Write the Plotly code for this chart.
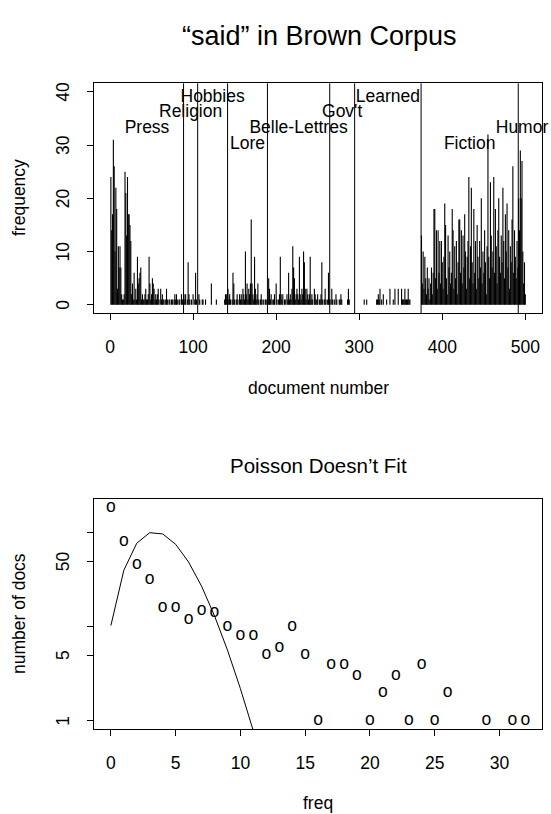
import math
import plotly.graph_objects as go

# ---------------- data: counts of "said" per Brown Corpus document ----------------
genres = ["Press", "Religion", "Hobbies", "Lore", "Belle-Lettres", "Gov't",
          "Learned", "Fiction", "Humor"]
genre_label_y = [33, 36, 39, 30, 33, 36, 39, 30, 33]

press = [24, 14, 17, 31, 26, 10, 22, 18, 3, 11, 7, 11, 7, 2, 1, 1, 2, 25, 21, 13,
         24, 17, 17, 15, 12, 2, 4, 1, 6, 1, 3, 1, 9, 4, 5, 6, 7, 1, 2, 1,
         1, 2, 3, 1, 1, 2, 9, 4, 1, 2, 5, 4, 3, 1, 2, 1, 2, 3, 1, 0,
         3, 1, 2, 1, 1, 0, 1, 3, 1, 0, 1, 1, 0, 1, 1, 0, 1, 2, 1, 2,
         1, 0, 1, 1, 0, 2, 1, 1]
religion = [2, 1, 2, 0, 1, 8, 2, 1, 0, 1, 0, 2, 0, 1, 6, 1, 0]
hobbies = [0, 2, 1, 0, 0, 1, 1, 0, 0, 1, 0, 0, 0, 0, 0, 0, 4, 0, 0, 0,
           0, 0, 1, 0, 0, 0, 0, 0, 0, 0, 0, 0, 1, 2, 2, 1]
lore = [3, 1, 2, 1, 0, 1, 6, 4, 1, 0, 1, 2, 1, 0, 2, 1, 2, 1, 3, 2,
        1, 10, 2, 4, 1, 3, 2, 4, 16, 4, 2, 1, 9, 3, 1, 2, 4, 1, 0, 1,
        2, 1, 0, 1, 0, 1, 1, 0]
belles = [1, 5, 3, 1, 2, 0, 1, 1, 2, 0, 4, 1, 0, 1, 2, 9, 2, 1, 2, 0,
          1, 1, 0, 2, 1, 6, 1, 2, 1, 3, 11, 7, 5, 1, 2, 3, 2, 1, 9, 2,
          1, 3, 2, 10, 8, 3, 1, 3, 2, 1, 2, 9, 1, 2, 1, 0, 3, 2, 1, 1,
          2, 0, 1, 1, 2, 8, 1, 0, 1, 3, 1, 0, 1, 6, 1]
govt = [1, 0, 3, 1, 0, 1, 0, 2, 1, 0, 0, 1, 1, 2, 1, 0, 0, 0, 0, 0,
        0, 1, 3, 1, 0, 0, 0, 0, 0, 0]
learned = [0, 0, 0, 0, 0, 0, 0, 0, 0, 0, 0, 1, 0, 0, 1, 0, 0, 0, 0, 0,
           0, 0, 0, 0, 0, 0, 1, 1, 2, 1, 3, 0, 1, 0, 2, 0, 0, 0, 1, 0,
           0, 0, 3, 0, 0, 0, 1, 0, 3, 0, 0, 0, 3, 0, 0, 0, 3, 1, 1, 1,
           3, 1, 1, 1, 3, 1, 1, 0, 0, 0, 0, 0, 0, 0, 0, 0, 0, 0, 0, 0]
fiction = [13, 4, 10, 3, 9, 5, 2, 7, 3, 5, 1, 4, 7, 2, 6, 18, 18, 5, 14, 3,
           14, 6, 12, 4, 12, 8, 3, 9, 19, 15, 5, 2, 13, 7, 10, 4, 6, 18, 14, 3,
           11, 5, 12, 2, 8, 16, 16, 6, 14, 4, 13, 7, 17, 10, 3, 9, 12, 24, 5, 11,
           22, 8, 4, 18, 6, 12, 3, 15, 9, 5, 12, 7, 20, 4, 10, 6, 14, 8, 2, 11,
           32, 9, 5, 23, 13, 7, 10, 24, 6, 18, 11, 4, 14, 20, 9, 6, 13, 8, 22, 12,
           5, 17, 10, 19, 7, 14, 3, 11, 8, 16, 26, 6, 14, 9, 5, 12, 7]
humor = [20, 14, 29, 20, 27, 10, 4, 8, 2]

genre_counts = [press, religion, hobbies, lore, belles, govt, learned, fiction, humor]

top_xticks = [0, 100, 200, 300, 400, 500]
top_yticks = [0, 10, 20, 30, 40]

# ---------------- data: distribution of counts vs Poisson ----------------
freq = [0, 1, 2, 3, 4, 5, 6, 7, 8, 9, 10, 11, 12, 13, 14, 15, 16, 17, 18, 19,
        20, 21, 22, 23, 24, 25, 26, 29, 31, 32]
num_docs = [186, 81, 46, 32, 16, 16, 12, 15, 14, 10, 8, 8, 5, 6, 10, 5, 1, 4, 4, 3,
            1, 2, 3, 1, 4, 1, 2, 1, 1, 1]
poisson_x = [0, 1, 2, 3, 4, 5, 6, 7, 8, 9, 10, 11]
poisson_y = [10.3, 40.0, 77.6, 100.4, 97.4, 75.6, 48.9, 27.1, 13.1, 5.66, 2.2, 0.78]

bot_xticks = [0, 5, 10, 15, 20, 25, 30]
bot_yticks = [1, 5, 10, 50, 100]
bot_yticktext = ["1", "5", "", "50", ""]

# ---------------- build ----------------
W, H = 551, 814
FONT = "Liberation Sans, Arial, Helvetica, sans-serif"
FS = 17.5

def fx(p):
    return p / W

def fy(p):
    return 1 - p / H

counts = [v for g in genre_counts for v in g]
docs = list(range(1, len(counts) + 1))

hx, hy = [], []
for d, v in zip(docs, counts):
    hx += [d, d, None]
    hy += [0, v, None]

bounds, mids = [], []
start = 1
for g in genre_counts:
    end = start + len(g) - 1
    mids.append((start + end) / 2)
    bounds.append(end + 0.5)
    start = end + 1
bounds = bounds[:-1]

fig = go.Figure()
fig.add_trace(go.Scatter(x=hx, y=hy, mode="lines",
                         line=dict(color="black", width=1.1),
                         xaxis="x", yaxis="y", hoverinfo="skip", showlegend=False))
fig.add_trace(go.Scatter(x=mids, y=genre_label_y, mode="text", text=genres,
                         textposition="middle center",
                         textfont=dict(family=FONT, size=FS, color="black"),
                         xaxis="x", yaxis="y", showlegend=False, cliponaxis=False))
fig.add_trace(go.Scatter(x=freq, y=num_docs, mode="text", text=["o"] * len(freq),
                         textposition="middle center",
                         textfont=dict(family=FONT, size=FS, color="black"),
                         xaxis="x2", yaxis="y2", showlegend=False, cliponaxis=False))
fig.add_trace(go.Scatter(x=poisson_x, y=poisson_y, mode="lines",
                         line=dict(color="black", width=1),
                         xaxis="x2", yaxis="y2", showlegend=False))

shapes = [dict(type="line", xref="x", yref="y domain", x0=b, x1=b, y0=0, y1=1,
               line=dict(color="black", width=1)) for b in bounds]

xdom = [fx(94.3), fx(541.9)]
axis_common = dict(showgrid=False, zeroline=False, showline=True, mirror=True,
                   linecolor="black", linewidth=1, ticks="outside", ticklen=6,
                   tickcolor="black", tickwidth=1,
                   tickfont=dict(family=FONT, size=FS, color="black"))

def ann(text, x, y, size=FS, angle=0, xref="paper", yref="paper"):
    return dict(text=text, x=x, y=y, xref=xref, yref=yref, showarrow=False,
                xanchor="center", yanchor="middle", textangle=angle,
                font=dict(family=FONT, size=size, color="black"))

annotations = [
    ann("\u201csaid\u201d in Brown Corpus", fx(319), fy(36), size=27),
    ann("Poisson Doesn\u2019t Fit", fx(318), fy(465), size=20.5),
    ann("document number", fx(318), fy(388)),
    ann("freq", fx(318), fy(803)),
    ann("frequency", fx(19), fy(198), angle=-90),
    ann("number of docs", fx(19), fy(614), angle=-90),
]
for t in top_yticks:
    annotations.append(ann(str(t), fx(63), t, angle=-90, yref="y"))
for t, lab in zip(bot_yticks, bot_yticktext):
    if lab:
        annotations.append(ann(lab, fx(63), math.log10(t), angle=-90, yref="y2"))

fig.update_layout(
    width=W, height=H,
    margin=dict(l=0, r=0, t=0, b=0),
    paper_bgcolor="white", plot_bgcolor="white",
    showlegend=False,
    shapes=shapes,
    xaxis=dict(domain=xdom, range=[-18.96, 519.96], tickvals=top_xticks,
               ticklabelstandoff=12, anchor="y", **axis_common),
    yaxis=dict(domain=[fy(313.3), fy(83.3)], range=[-1.6, 41.6], tickvals=top_yticks,
               showticklabels=False, anchor="x", **axis_common),
    xaxis2=dict(domain=xdom, range=[-1.28, 33.28], tickvals=bot_xticks,
                ticklabelstandoff=12, anchor="y2", **axis_common),
    yaxis2=dict(domain=[fy(729.3), fy(499)], type="log", range=[-0.0908, 2.3603],
                tickvals=bot_yticks, ticktext=bot_yticktext, showticklabels=False,
                anchor="x2", **axis_common),
    annotations=annotations,
)

fig.write_html("out.html", config={"displayModeBar": False},
               post_script="document.body.style.margin='0';")
